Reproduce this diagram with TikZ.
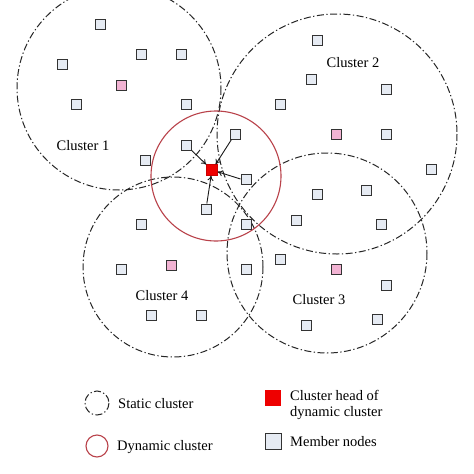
\documentclass[tikz,border=0pt]{standalone}
\usepackage{fontspec}
\setmainfont{Liberation Serif}
\usetikzlibrary{arrows.meta}
\definecolor{memberfill}{HTML}{E6EBF3}
\definecolor{pinkfill}{HTML}{F2B3D3}
\definecolor{dynred}{HTML}{B9424A}
\definecolor{headred}{HTML}{EE0000}
\tikzset{
  member/.style={draw=black!80, fill=memberfill, minimum size=10pt, inner sep=0pt, line width=1pt},
  chead/.style={draw=black!80, fill=pinkfill, minimum size=10pt, inner sep=0pt, line width=1pt},
  dhead/.style={draw=red!80!black, fill=headred, minimum size=11pt, inner sep=0pt, line width=0.4pt},
  static/.style={draw=black!85, line width=1pt, dash pattern=on 7pt off 2.5pt on 1.3pt off 2.5pt},
  dynamic/.style={draw=dynred, line width=1.1pt},
  lbl/.style={font=\fontsize{14.5}{16}\selectfont, inner sep=0pt},
  legtxt/.style={font=\fontsize{14.5}{15.5}\selectfont, inner sep=0pt, anchor=west, align=left},
  arr/.style={draw=black!90, line width=0.9pt, -{To[length=5pt,width=6pt]}}
}
\begin{document}
\begin{tikzpicture}[x=1pt,y=-1pt]
\useasboundingbox (0,0) rectangle (474,474);
\fill[white] (0,0) rectangle (474,474);
\begin{scope}
\clip (0,0) rectangle (474,474);
% static clusters
\draw[static] (119,88) circle (102);
\draw[static] (337,134) circle (120);
\draw[static] (327,253) circle (100);
\draw[static] (173,267) circle (90);
% dynamic cluster
\draw[dynamic] (216,176) circle (65);
\end{scope}
% labels
\node[lbl] (c1) at (83,146) {Cluster 1};
\node[lbl] (c2) at (353,63) {Cluster 2};
\node[lbl] (c3) at (319,300) {Cluster 3};
\node[lbl] (c4) at (162,296) {Cluster 4};
% cluster 1 members
\node[member] (a1) at (100,24) {};
\node[member] (a2) at (141,54) {};
\node[member] (a3) at (181,54) {};
\node[member] (a4) at (62,64) {};
\node[chead]  (h1) at (121,85) {};
\node[member] (a5) at (76,104) {};
\node[member] (a6) at (186,104) {};
\node[member] (a7) at (186,145) {};
\node[member] (a8) at (145,160) {};
% cluster 2 members
\node[member] (b1) at (317,40) {};
\node[member] (b2) at (311,79) {};
\node[member] (b3) at (386,89) {};
\node[member] (b4) at (280,104) {};
\node[chead]  (h2) at (336,134) {};
\node[member] (b5) at (386,134) {};
\node[member] (b6) at (235,134) {};
\node[member] (b7) at (431,169) {};
\node[member] (b8) at (246,179) {};
\node[member] (b9) at (317,194) {};
\node[member] (b10) at (366,190) {};
\node[member] (b11) at (296,220) {};
\node[member] (b12) at (381,224) {};
\node[member] (b13) at (246,224) {};
% cluster 3 members
\node[member] (d1) at (280,259) {};
\node[chead]  (h3) at (336,269) {};
\node[member] (d2) at (246,269) {};
\node[member] (d3) at (386,285) {};
\node[member] (d4) at (377,319) {};
\node[member] (d5) at (306,325) {};
% cluster 4 members
\node[member] (e1) at (206,209) {};
\node[member] (e2) at (141,224) {};
\node[member] (e3) at (121,269) {};
\node[chead]  (h4) at (171,265) {};
\node[member] (e4) at (151,315) {};
\node[member] (e5) at (201,315) {};
% dynamic cluster head
\node[dhead] (dh) at (212,170) {};
\draw[arr] (a7) -- (dh);
\draw[arr] (b6) -- (dh);
\draw[arr] (b8.west) -- (dh);
\draw[arr] (e1) -- (dh);
% legend
\draw[static] (97,403) circle (12);
\node[legtxt] (t1) at (118,404) {Static cluster};
\draw[dynamic] (97,446) circle (11);
\node[legtxt] (t2) at (117,447) {Dynamic cluster};
\node[dhead, draw=none, minimum size=16pt] (lh) at (273,398) {};
\node[legtxt] (t3) at (290,405) {Cluster head of\\dynamic cluster};
\node[member, minimum size=16pt] (lm) at (273,441) {};
\node[legtxt] (t4) at (290,442) {Member nodes};
\end{tikzpicture}
\end{document}
